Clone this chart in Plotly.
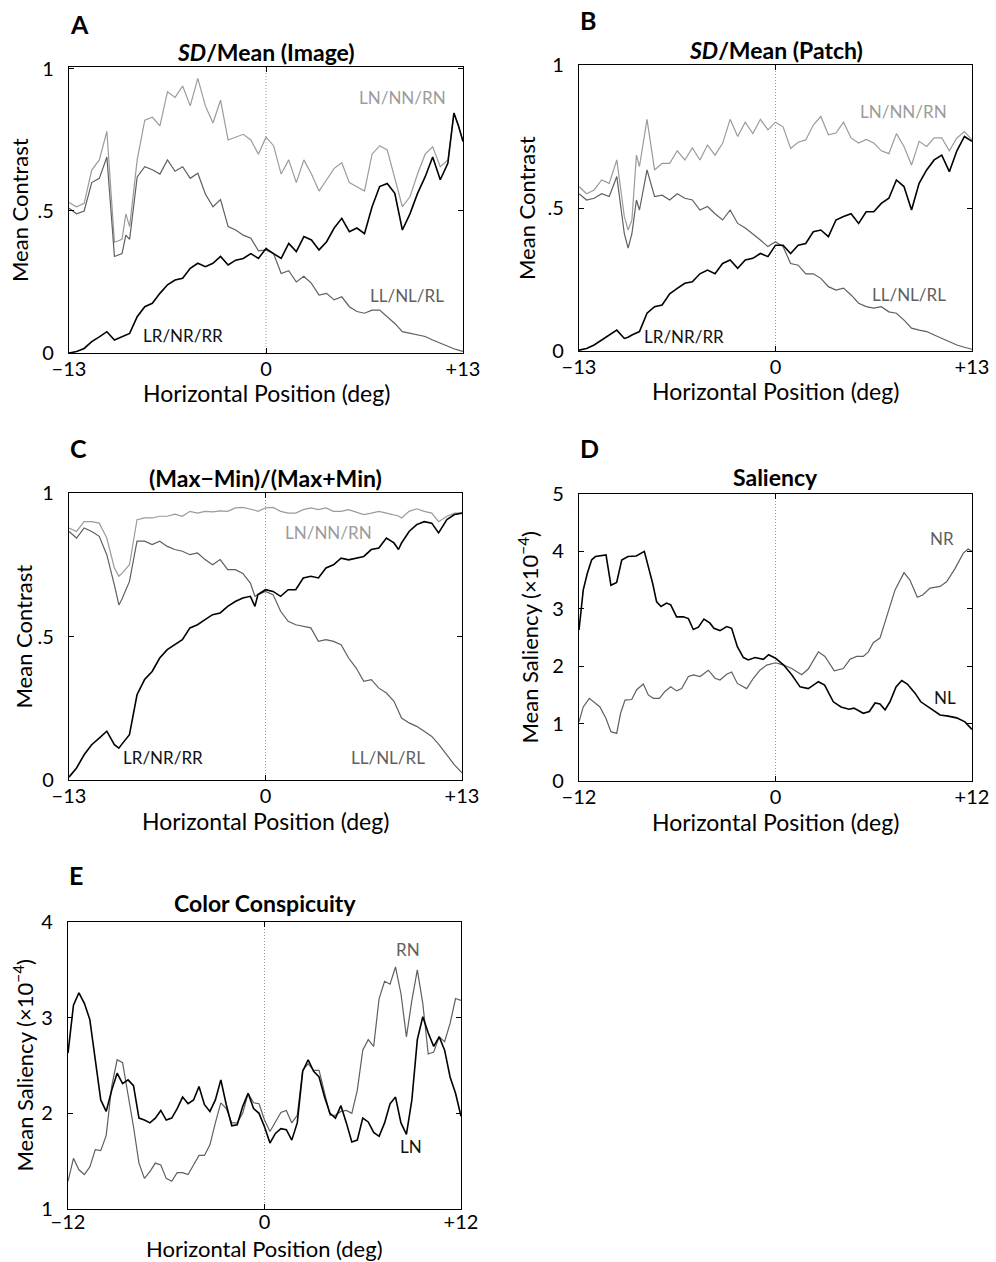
import numpy as np
import plotly.graph_objects as go

W, H = 996, 1262
FONT = "Lato"
LIGHT = "#9b9b9b"
DARK = "#5f5f5f"
BLACK = "#000000"

# ---------------- Panel A : SD/Mean (Image) ----------------
xA = [-13, -12.5, -12, -11.5, -11, -10.5, -10, -9.5, -9.25, -9, -8.5, -8, -7.5, -7, -6.5, -6,
      -5.5, -5, -4.5, -4, -3.5, -3, -2.5, -2, -1.5, -1, -0.5, 0,
      0.5, 1, 1.5, 2, 2.5, 3, 3.5, 4, 4.5, 5, 5.5, 6, 6.5, 7, 7.5, 8, 8.5, 9, 9.5, 10,
      10.5, 11, 11.5, 12, 12.4, 12.7, 13]
A_LN = [0.53, 0.515, 0.527, 0.644, 0.68, 0.78, 0.39, 0.40, 0.49, 0.445, 0.68, 0.82, 0.83, 0.80,
        0.92, 0.90, 0.94, 0.87, 0.967, 0.87, 0.81, 0.89, 0.75, 0.76, 0.77, 0.75, 0.70, 0.76,
        0.73, 0.63, 0.68, 0.60, 0.68, 0.63, 0.57, 0.61, 0.65, 0.67, 0.60, 0.585, 0.57, 0.70,
        0.73, 0.715, 0.61, 0.515, 0.55, 0.63, 0.70, 0.726, 0.656, 0.68, 0.845, 0.80, 0.745]
A_LL = [0.51, 0.49, 0.50, 0.60, 0.615, 0.69, 0.34, 0.35, 0.415, 0.40, 0.62, 0.656, 0.645, 0.63,
        0.68, 0.64, 0.656, 0.615, 0.633, 0.56, 0.515, 0.54, 0.445, 0.433, 0.415, 0.404, 0.36, 0.363,
        0.35, 0.28, 0.29, 0.25, 0.27, 0.245, 0.204, 0.21, 0.187, 0.198, 0.163, 0.146, 0.14, 0.151,
        0.151, 0.128, 0.104, 0.075, 0.069, 0.063, 0.058, 0.046, 0.034, 0.022, 0.015, 0.01, 0.006]
A_LR = [0.0, 0.005, 0.016, 0.04, 0.057, 0.075, 0.046, 0.057, 0.063, 0.069, 0.128, 0.163, 0.175, 0.21,
        0.24, 0.257, 0.263, 0.298, 0.316, 0.304, 0.316, 0.34, 0.31, 0.327, 0.333, 0.35, 0.333, 0.368,
        0.35, 0.333, 0.386, 0.357, 0.41, 0.398, 0.363, 0.392, 0.44, 0.474, 0.427, 0.44, 0.42, 0.515,
        0.586, 0.597, 0.562, 0.433, 0.49, 0.562, 0.62, 0.69, 0.61, 0.668, 0.845, 0.80, 0.745]

# ---------------- Panel B : SD/Mean (Patch) ----------------
xB = [-13, -12.5, -12, -11.5, -11, -10.5, -10, -9.75, -9.5, -9.2, -9, -8.5, -8, -7.5, -7, -6.5,
      -6, -5.5, -5, -4.5, -4, -3.5, -3, -2.5, -2, -1.5, -1, -0.5, 0,
      0.5, 1, 1.5, 2, 2.5, 3, 3.5, 4, 4.5, 5, 5.5, 6, 6.5, 7, 7.5, 8, 8.5, 9, 9.5, 10,
      10.5, 11, 11.5, 12, 12.5, 13]
B_LN = [0.575, 0.55, 0.563, 0.598, 0.586, 0.668, 0.47, 0.423, 0.458, 0.685, 0.645, 0.81, 0.633,
        0.656, 0.656, 0.70, 0.668, 0.71, 0.668, 0.72, 0.685, 0.726, 0.81, 0.75, 0.80, 0.76, 0.81,
        0.773, 0.80,
        0.784, 0.708, 0.73, 0.738, 0.79, 0.82, 0.756, 0.762, 0.80, 0.745, 0.727, 0.74, 0.727, 0.70,
        0.69, 0.76, 0.715, 0.65, 0.733, 0.715, 0.745, 0.745, 0.70, 0.745, 0.767, 0.738]
B_LL = [0.55, 0.528, 0.534, 0.55, 0.54, 0.61, 0.41, 0.36, 0.41, 0.528, 0.493, 0.633, 0.54, 0.545,
        0.528, 0.55, 0.534, 0.528, 0.493, 0.505, 0.48, 0.458, 0.493, 0.446, 0.43, 0.41, 0.388,
        0.365, 0.382,
        0.365, 0.306, 0.30, 0.27, 0.27, 0.254, 0.225, 0.213, 0.22, 0.196, 0.167, 0.155, 0.15, 0.155,
        0.137, 0.132, 0.108, 0.08, 0.073, 0.068, 0.056, 0.044, 0.033, 0.021, 0.013, 0.006]
B_LR = [0.003, 0.009, 0.021, 0.038, 0.056, 0.073, 0.044, 0.048, 0.056, 0.062, 0.068, 0.132, 0.155,
        0.161, 0.20, 0.219, 0.237, 0.242, 0.27, 0.283, 0.27, 0.306, 0.318, 0.289, 0.318, 0.324,
        0.341, 0.33, 0.37,
        0.37, 0.341, 0.37, 0.376, 0.417, 0.423, 0.40, 0.458, 0.47, 0.48, 0.446, 0.487, 0.487, 0.516,
        0.534, 0.598, 0.575, 0.493, 0.586, 0.633, 0.668, 0.685, 0.627, 0.70, 0.75, 0.733]

# ---------------- Panel C : (Max-Min)/(Max+Min) ----------------
xC = [-13, -12.5, -12, -11.5, -11, -10.5, -10, -9.7, -9.5, -9, -8.5, -8, -7.5, -7, -6.5, -6,
      -5.5, -5, -4.5, -4, -3.5, -3, -2.5, -2, -1.5, -1, -0.7, -0.5, 0,
      0.5, 1, 1.5, 2, 2.5, 3, 3.5, 4, 4.5, 5, 5.5, 6, 6.5, 7, 7.5, 8, 8.5, 8.8, 9, 9.5, 10,
      10.5, 11, 11.45, 12, 12.5, 13]
C_LN = [0.878, 0.866, 0.90, 0.90, 0.895, 0.843, 0.739, 0.71, 0.72, 0.75, 0.907, 0.913, 0.913,
        0.919, 0.919, 0.926, 0.919, 0.936, 0.93, 0.936, 0.934, 0.938, 0.936, 0.948, 0.95, 0.945,
        0.94, 0.936, 0.948,
        0.95, 0.936, 0.93, 0.93, 0.942, 0.948, 0.942, 0.948, 0.936, 0.936, 0.942, 0.934, 0.925,
        0.93, 0.936, 0.93, 0.925, 0.92, 0.913, 0.936, 0.945, 0.936, 0.93, 0.90, 0.919, 0.93, 0.93]
C_LL = [0.866, 0.843, 0.878, 0.866, 0.849, 0.785, 0.68, 0.61, 0.63, 0.692, 0.832, 0.832, 0.82,
        0.832, 0.814, 0.803, 0.797, 0.785, 0.791, 0.768, 0.75, 0.768, 0.733, 0.733, 0.72, 0.686,
        0.64, 0.646, 0.657,
        0.646, 0.588, 0.553, 0.541, 0.535, 0.53, 0.483, 0.489, 0.483, 0.471, 0.425, 0.39, 0.344,
        0.35, 0.32, 0.303, 0.274, 0.24, 0.216, 0.199, 0.187, 0.17, 0.152, 0.125, 0.088, 0.053, 0.025]
C_LR = [0.01, 0.042, 0.088, 0.123, 0.146, 0.17, 0.123, 0.111, 0.125, 0.158, 0.297, 0.35, 0.378,
        0.425, 0.454, 0.471, 0.489, 0.53, 0.541, 0.559, 0.576, 0.582, 0.605, 0.622, 0.634, 0.64,
        0.605, 0.646, 0.663,
        0.657, 0.64, 0.663, 0.663, 0.704, 0.71, 0.704, 0.739, 0.75, 0.773, 0.767, 0.773, 0.779,
        0.803, 0.808, 0.843, 0.826, 0.803, 0.826, 0.866, 0.89, 0.90, 0.895, 0.861, 0.907, 0.925, 0.93]

# ---------------- Panel D : Saliency ----------------
xD_NL = [-12, -11.74, -11.49, -11.23, -11.0, -10.72, -10.35, -10.05, -9.70, -9.39, -9.01, -8.50,
         -8.01, -7.50, -7.26, -6.99, -6.65, -6.40, -6.04, -5.63, -5.32, -5.02, -4.71, -4.37, -4.0,
         -3.76, -3.39, -2.98, -2.68, -2.33, -1.96, -1.66, -1.25, -0.74, -0.42, 0, 0.50, 0.99,
         1.50, 2.0, 2.62, 3.0, 3.53, 4.0, 4.49, 4.79, 5.36, 5.73, 6.08, 6.38, 6.69, 6.99, 7.36,
         7.71, 8.05, 8.52, 8.87, 9.44, 10.05, 10.55, 11.06, 11.57, 12]
D_NL = [2.63, 3.33, 3.62, 3.85, 3.91, 3.92, 3.94, 3.41, 3.46, 3.85, 3.91, 3.92, 4.0, 3.44, 3.12,
        3.04, 3.10, 3.07, 2.86, 2.86, 2.83, 2.64, 2.68, 2.82, 2.75, 2.66, 2.62, 2.69, 2.66, 2.34,
        2.15, 2.11, 2.15, 2.12, 2.20, 2.14, 2.02, 1.85, 1.64, 1.61, 1.73, 1.67, 1.38, 1.29, 1.25,
        1.27, 1.18, 1.21, 1.36, 1.34, 1.24, 1.38, 1.64, 1.75, 1.69, 1.53, 1.38, 1.27, 1.15, 1.13,
        1.10, 1.03, 0.90]
xD_NR = [-12, -11.74, -11.37, -11.02, -10.72, -10.35, -10.05, -9.70, -9.46, -9.19, -8.78, -8.48,
         -8.07, -7.77, -7.46, -7.09, -6.75, -6.40, -6.04, -5.73, -5.32, -5.02, -4.61, -4.10, -3.69,
         -3.39, -2.98, -2.68, -2.33, -1.76, -1.35, -0.95, -0.54, 0, 0.50, 0.99, 1.60, 2.0, 2.62,
         3.02, 3.59, 4.14, 4.55, 4.96, 5.36, 5.67, 5.97, 6.38, 6.89, 7.30, 7.85, 8.21, 8.66, 8.99,
         9.44, 10.05, 10.45, 10.96, 11.47, 11.77, 12]
D_NR = [1.03, 1.29, 1.44, 1.35, 1.29, 1.09, 0.86, 0.83, 1.18, 1.41, 1.42, 1.59, 1.69, 1.50, 1.44,
        1.44, 1.56, 1.64, 1.57, 1.61, 1.82, 1.85, 1.82, 1.93, 1.79, 1.76, 1.86, 1.90, 1.70, 1.61,
        1.79, 1.93, 2.02, 2.06, 2.02, 1.96, 1.85, 1.95, 2.25, 2.17, 1.92, 1.96, 2.12, 2.17, 2.17,
        2.25, 2.41, 2.49, 2.98, 3.33, 3.63, 3.50, 3.20, 3.24, 3.36, 3.39, 3.47, 3.70, 3.97, 4.04,
        4.00]

# ---------------- Panel E : Color Conspicuity ----------------
xE = np.linspace(-12, 12, 73)
E_LN = [2.63, 3.13, 3.26, 3.15, 2.98, 2.56, 2.14, 2.02, 2.24, 2.42, 2.31, 2.35, 2.29, 1.95, 1.93,
        1.90, 1.95, 2.03, 1.93, 1.95, 2.05, 2.17, 2.10, 2.14, 2.28, 2.09, 2.02, 2.14, 2.35, 2.09,
        1.87, 1.88, 2.07, 2.21, 2.05, 2.00, 1.86, 1.69, 1.79, 1.84, 1.83, 1.72, 1.90, 2.44, 2.56,
        2.44, 2.38, 2.17, 2.00, 1.95, 2.08, 1.90, 1.70, 1.72, 1.95, 1.91, 1.80, 1.76, 1.90, 2.10,
        2.17, 1.90, 1.78, 2.14, 2.77, 3.01, 2.84, 2.70, 2.80, 2.66, 2.38, 2.21, 1.97]
E_RN = [1.29, 1.53, 1.41, 1.36, 1.44, 1.62, 1.61, 1.77, 2.28, 2.56, 2.53, 2.21, 1.86, 1.48, 1.32,
        1.39, 1.48, 1.46, 1.32, 1.29, 1.38, 1.38, 1.36, 1.46, 1.56, 1.56, 1.67, 1.90, 2.11, 2.05,
        1.90, 1.90, 2.00, 2.21, 2.11, 2.10, 1.93, 1.81, 1.91, 2.01, 2.03, 1.90, 1.98, 2.45, 2.52,
        2.45, 2.45, 2.21, 1.98, 1.98, 2.02, 2.03, 2.00, 2.24, 2.66, 2.77, 2.70, 3.20, 3.38, 3.35,
        3.53, 3.25, 2.80, 3.18, 3.50, 3.15, 2.62, 2.64, 2.80, 2.75, 2.94, 3.20, 3.18]

XT13 = ([-13, 0, 13], ["\u221213", "0", "+13"])
XT12 = ([-12, 0, 12], ["\u221212", "0", "+12"])
YT01 = ([0, 0.5, 1], ["0", ".5", "1"])
YT05 = ([0, 1, 2, 3, 4, 5], ["0", "1", "2", "3", "4", "5"])
YT14 = ([1, 2, 3, 4], ["1", "2", "3", "4"])


def px(x):
    return x / W


def py(y):
    return 1 - y / H


panels = [
    dict(letter="A", title="<i>SD</i>/Mean (Image)", xd=(69, 463), yd=(67, 353),
         xr=(-13, 13), yr=(0, 1.007), xt=XT13, yt=YT01, ytitle="Mean Contrast",
         series=[(xA, A_LN, LIGHT, 1.2), (xA, A_LL, DARK, 1.2), (xA, A_LR, BLACK, 1.6)],
         labels=[("LN/NN/RN", 8.98, 0.898, LIGHT), ("LL/NL/RL", 9.31, 0.204, DARK),
                 ("LR/NR/RR", -5.47, 0.063, "#111")],
         ytx=20, lety=24, tity=52, xty=393, xso=-2, xfs=23),
    dict(letter="B", title="<i>SD</i>/Mean (Patch)", xd=(579, 972), yd=(65, 351),
         xr=(-13, 13), yr=(0, 1.0), xt=XT13, yt=YT01, ytitle="Mean Contrast",
         series=[(xB, B_LN, LIGHT, 1.2), (xB, B_LL, DARK, 1.2), (xB, B_LR, BLACK, 1.6)],
         labels=[("LN/NN/RN", 8.5, 0.836, LIGHT), ("LL/NL/RL", 8.83, 0.196, DARK),
                 ("LR/NR/RR", -6.05, 0.052, "#111")],
         ytx=527, lety=20, tity=50, xty=391, xso=-2, xfs=23),
    dict(letter="C", title="(Max\u2212Min)/(Max+Min)", xd=(69, 462), yd=(493, 780),
         xr=(-13, 13), yr=(0, 1.0), xt=XT13, yt=YT01, ytitle="Mean Contrast",
         series=[(xC, C_LN, LIGHT, 1.2), (xC, C_LL, DARK, 1.2), (xC, C_LR, BLACK, 1.6)],
         labels=[("LN/NN/RN", 4.2, 0.864, LIGHT), ("LR/NR/RR", -6.78, 0.08, "#111"),
                 ("LL/NL/RL", 8.1, 0.08, DARK)],
         ytx=23, lety=448, tity=478, xty=821, xso=-2, xfs=23),
    dict(letter="D", title="Saliency", xd=(579, 972), yd=(494, 781),
         xr=(-12, 12), yr=(0, 5), xt=XT12, yt=YT05,
         ytitle="Mean Saliency (\u00d710<sup>\u22124</sup>)",
         series=[(xD_NR, D_NR, DARK, 1.2), (xD_NL, D_NL, BLACK, 1.6)],
         labels=[("NR", 10.17, 4.23, DARK), ("NL", 10.35, 1.46, "#111")],
         ytx=528, lety=448, tity=477, xty=822, xso=-2, xfs=23),
    dict(letter="E", title="Color Conspicuity", xd=(68, 461), yd=(922, 1209),
         xr=(-12, 12), yr=(1, 4), xt=XT12, yt=YT14,
         ytitle="Mean Saliency (\u00d710<sup>\u22124</sup>)",
         series=[(xE, E_RN, DARK, 1.2), (xE, E_LN, BLACK, 1.6)],
         labels=[("RN", 8.76, 3.71, DARK), ("LN", 8.95, 1.65, "#111")],
         ytx=23, lety=875, tity=903, xty=1248, xso=-5, xfs=22),
]

fig = go.Figure()
layout = dict(width=W, height=H,
              margin=dict(l=0, r=0, t=0, b=0, pad=0, autoexpand=False),
              paper_bgcolor="white", plot_bgcolor="white", showlegend=False,
              font=dict(family=FONT, size=20, color="black"))
annotations = []
shapes = []

for i, p in enumerate(panels):
    n = "" if i == 0 else str(i + 1)
    xa, ya = "x" + n, "y" + n
    axis_common = dict(showgrid=False, zeroline=False, showline=True, linecolor="black",
                       linewidth=1.3, mirror="ticks", ticks="inside", ticklen=5,
                       tickcolor="black", tickwidth=1, automargin=False,
                       tickfont=dict(family=FONT, size=20))
    layout["xaxis" + n] = dict(axis_common, domain=[px(p["xd"][0]), px(p["xd"][1])],
                               range=list(p["xr"]), anchor=ya,
                               tickvals=p["xt"][0], ticktext=p["xt"][1],
                               ticklabelstandoff=p["xso"])
    layout["yaxis" + n] = dict(axis_common, domain=[py(p["yd"][1]), py(p["yd"][0])],
                               range=list(p["yr"]), anchor=xa,
                               tickvals=p["yt"][0], ticktext=p["yt"][1],
                               ticklabelstandoff=10)
    # dotted zero line
    shapes.append(dict(type="line", xref=xa, yref=ya + " domain", x0=0, x1=0, y0=0, y1=1,
                       line=dict(color="#9a9a9a", width=1, dash="1px,2px"), layer="below"))
    for sx, sy, col, lw in p["series"]:
        fig.add_trace(go.Scatter(x=sx, y=sy, mode="lines", xaxis=xa, yaxis=ya,
                                 line=dict(color=col, width=lw), hoverinfo="skip"))
    for txt, lx, ly, col in p["labels"]:
        annotations.append(dict(text=txt, x=lx, y=ly, xref=xa, yref=ya, showarrow=False,
                                xanchor="center", yanchor="middle",
                                font=dict(family=FONT, size=17, color=col)))
    xc = (p["xd"][0] + p["xd"][1]) / 2
    # title
    annotations.append(dict(text="<b>" + p["title"] + "</b>", x=px(xc), y=py(p["tity"]),
                            xref="paper", yref="paper", showarrow=False,
                            xanchor="center", yanchor="middle",
                            font=dict(family=FONT, size=23, color="black")))
    # panel letter
    annotations.append(dict(text="<b>" + p["letter"] + "</b>", x=px(p["xd"][0] - 1),
                            y=py(p["lety"]), xref="paper", yref="paper",
                            xanchor="left", yanchor="middle",
                            showarrow=False, font=dict(family=FONT, size=25, color="black")))
    # x title
    annotations.append(dict(text="Horizontal Position (deg)", x=px(xc), y=py(p["xty"]),
                            xref="paper", yref="paper", showarrow=False,
                            xanchor="center", yanchor="middle",
                            font=dict(family=FONT, size=p["xfs"], color="black")))
    # y title
    yc = (p["yd"][0] + p["yd"][1]) / 2
    annotations.append(dict(text=p["ytitle"], x=px(p["ytx"]), y=py(yc), xref="paper",
                            yref="paper", showarrow=False, textangle=-90,
                            xanchor="center", yanchor="middle",
                            font=dict(family=FONT, size=22, color="black")))

layout["annotations"] = annotations
layout["shapes"] = shapes
fig.update_layout(**layout)
fig.write_html("out.html")
